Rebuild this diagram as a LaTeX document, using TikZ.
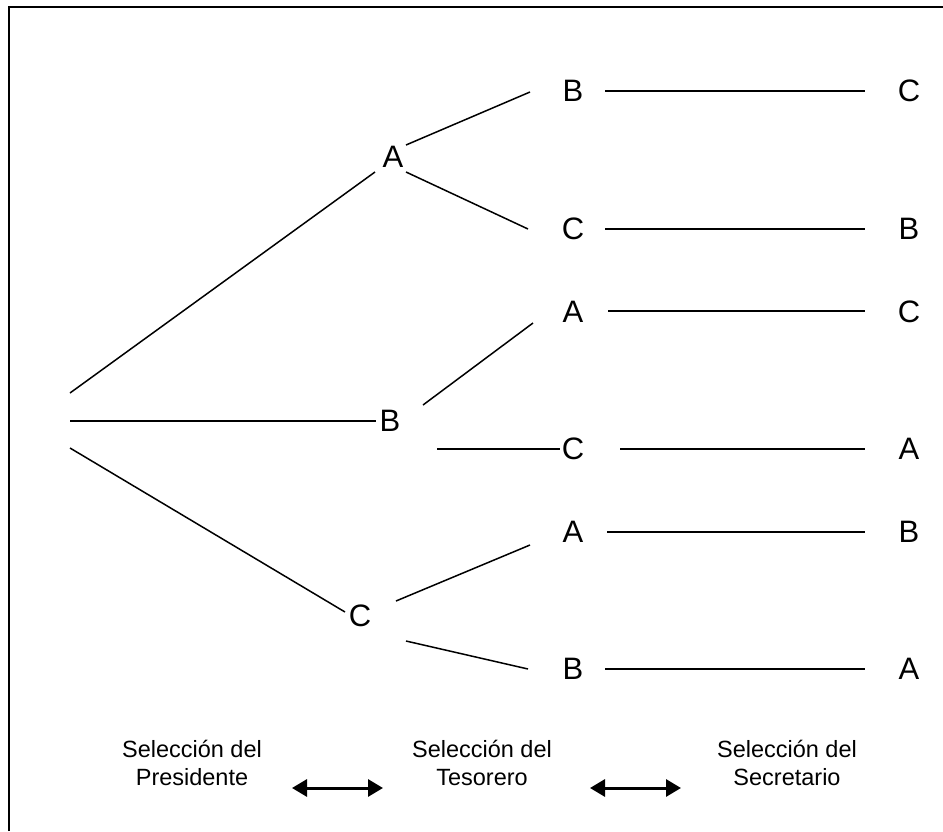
\documentclass[tikz,border=0pt]{standalone}
\usepackage{fontspec}
\setmainfont{Liberation Sans}
\usetikzlibrary{arrows.meta}
\begin{document}
\begin{tikzpicture}[x=1pt,y=-1pt,
  lt/.style={font=\fontsize{31}{36}\selectfont, inner sep=0pt},
  capt/.style={font=\fontsize{23.5}{27.5}\selectfont, align=center, inner sep=0pt},
  ln/.style={line width=1.5pt},
  dbl/.style={line width=3pt, {Triangle[length=15pt,width=17pt]}-{Triangle[length=15pt,width=17pt]}}]
\useasboundingbox (0,0) rectangle (943,831);
\draw[line width=2pt] (9,831) -- (9,7) -- (943,7);
% first level
\node[lt] (A1) at (393,157) {A};
\node[lt] (B1) at (390,421) {B};
\node[lt] (C1) at (360,616) {C};
% second level
\node[lt] (t1) at (573,91) {B};
\node[lt] (t2) at (573,229) {C};
\node[lt] (t3) at (573,312) {A};
\node[lt] (t4) at (573,449) {C};
\node[lt] (t5) at (573,532) {A};
\node[lt] (t6) at (573,669) {B};
% third level
\node[lt] (s1) at (909,91) {C};
\node[lt] (s2) at (909,229) {B};
\node[lt] (s3) at (909,312) {C};
\node[lt] (s4) at (909,449) {A};
\node[lt] (s5) at (909,532) {B};
\node[lt] (s6) at (909,669) {A};
% root line ends
\coordinate (r1) at (70,393); \coordinate (e1) at (375,172);
\coordinate (r2) at (70,421); \coordinate (e2) at (376,421);
\coordinate (r3) at (70,448); \coordinate (e3) at (345,612);
\draw[ln] (r1) -- (e1);
\draw[ln] (r2) -- (e2);
\draw[ln] (r3) -- (e3);
% second level branches
\coordinate (a1) at (406,145); \coordinate (a1e) at (530,92);
\coordinate (a2) at (406,172); \coordinate (a2e) at (528,229);
\coordinate (b1) at (423,405); \coordinate (b1e) at (533,323);
\coordinate (b2) at (437,449); \coordinate (b2e) at (560,449);
\coordinate (c1) at (396,601); \coordinate (c1e) at (530,545);
\coordinate (c2) at (406,641); \coordinate (c2e) at (528,669);
\draw[ln] (a1) -- (a1e);
\draw[ln] (a2) -- (a2e);
\draw[ln] (b1) -- (b1e);
\draw[ln] (b2) -- (b2e);
\draw[ln] (c1) -- (c1e);
\draw[ln] (c2) -- (c2e);
% third level lines
\coordinate (h1) at (605,91);  \coordinate (h1e) at (865,91);
\coordinate (h2) at (605,229); \coordinate (h2e) at (865,229);
\coordinate (h3) at (608,311); \coordinate (h3e) at (865,311);
\coordinate (h4) at (620,449); \coordinate (h4e) at (865,449);
\coordinate (h5) at (607,532); \coordinate (h5e) at (865,532);
\coordinate (h6) at (605,669); \coordinate (h6e) at (865,669);
\draw[ln] (h1) -- (h1e);
\draw[ln] (h2) -- (h2e);
\draw[ln] (h3) -- (h3e);
\draw[ln] (h4) -- (h4e);
\draw[ln] (h5) -- (h5e);
\draw[ln] (h6) -- (h6e);
% captions
\node[capt] (L1) at (192,763) {Selección del\\Presidente};
\node[capt] (L2) at (482,763) {Selección del\\Tesorero};
\node[capt] (L3) at (787,763) {Selección del\\Secretario};
\coordinate (d1) at (292,788); \coordinate (d1e) at (383,788);
\coordinate (d2) at (590,788); \coordinate (d2e) at (681,788);
\draw[dbl] (d1) -- (d1e);
\draw[dbl] (d2) -- (d2e);
\end{tikzpicture}
\end{document}
